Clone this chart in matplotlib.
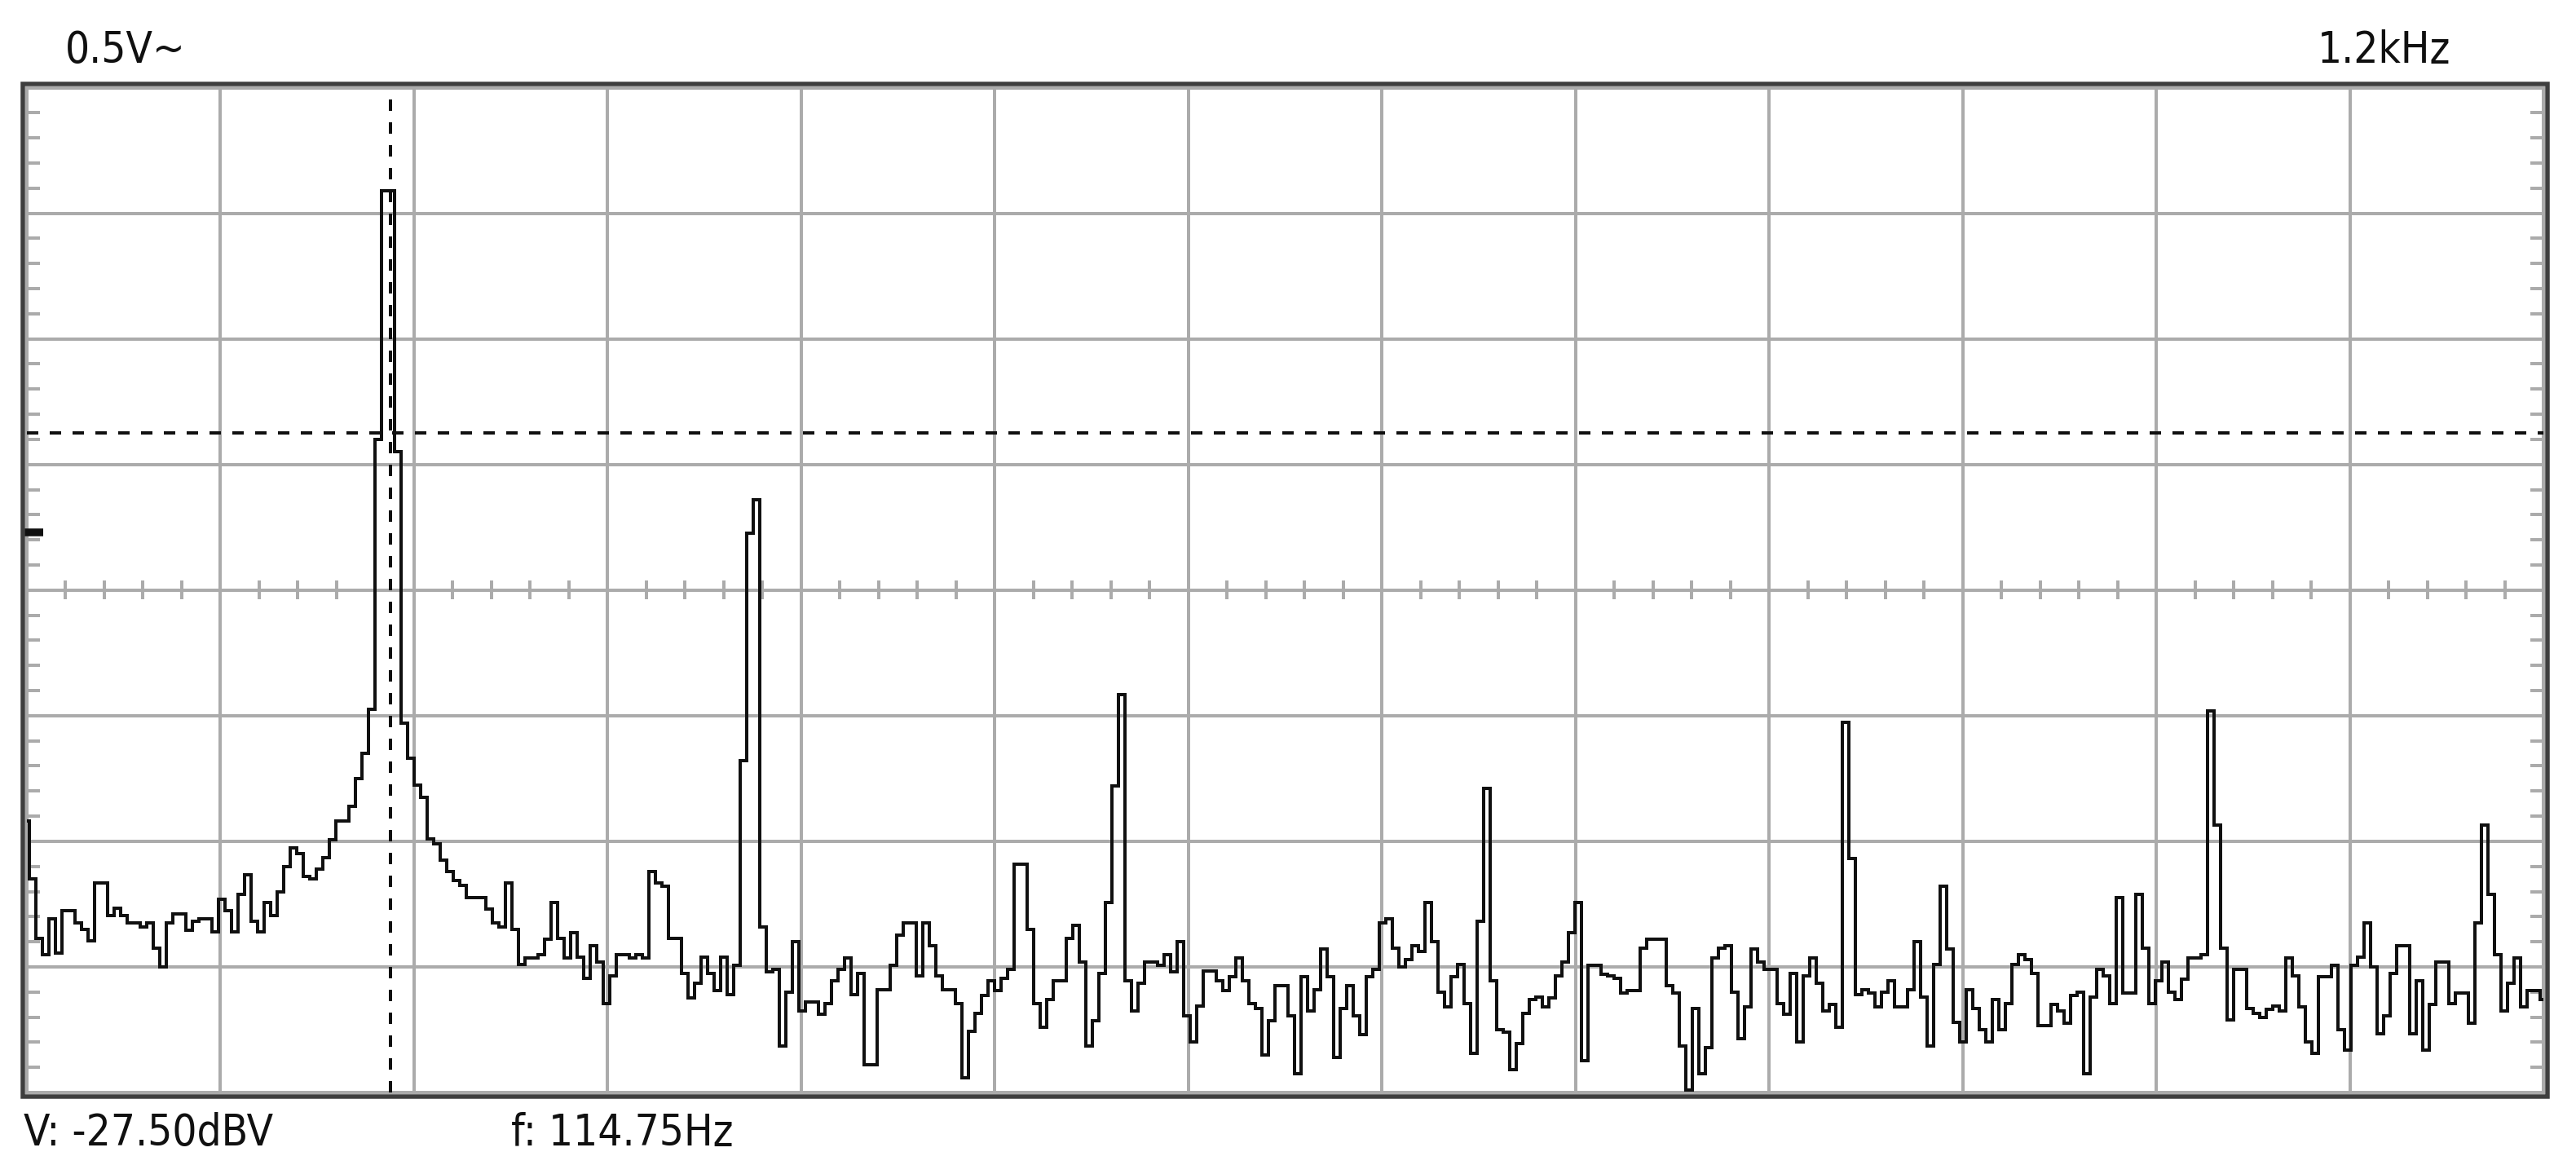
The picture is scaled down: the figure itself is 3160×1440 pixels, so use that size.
import numpy as np
import matplotlib
matplotlib.use("Agg")
import matplotlib.pyplot as plt
from matplotlib.ticker import MultipleLocator
from matplotlib.patches import Rectangle
from matplotlib import font_manager as fm

# ---------------- data ----------------
# FFT trace level in dBV, one value per display bin (uniform frequency grid)
level_dbv = [
    -58.4, -63.0, -67.7, -69.0, -66.2, -68.9, -65.5, -65.5, -66.5, -67.0,
    -67.9, -63.3, -63.3, -65.9, -65.3, -65.9, -66.5, -66.5, -66.8, -66.5,
    -68.5, -70.0, -66.5, -65.8, -65.8, -67.1, -66.4, -66.2, -66.2, -67.2,
    -64.6, -65.5, -67.2, -64.2, -62.7, -66.4, -67.2, -64.9, -65.9, -64.0,
    -62.0, -60.5, -61.0, -62.8, -63.0, -62.2, -61.3, -59.9, -58.4, -58.4,
    -57.2, -55.0, -53.0, -49.5, -28.0, -8.2, -8.2, -29.0, -50.6, -53.4,
    -55.5, -56.5, -59.8, -60.2, -61.5, -62.4, -63.1, -63.5, -64.5, -64.5,
    -64.5, -65.4, -66.5, -66.8, -63.3, -67.0, -69.8, -69.3, -69.3, -69.0,
    -67.8, -64.9, -67.7, -69.3, -67.3, -69.2, -70.9, -68.3, -69.6, -72.9,
    -70.7, -69.0, -69.0, -69.3, -69.0, -69.3, -62.4, -63.3, -63.6, -67.7,
    -67.7, -70.5, -72.5, -71.3, -69.2, -70.5, -71.9, -69.2, -72.2, -69.9,
    -53.6, -35.5, -32.8, -66.8, -70.4, -70.2, -76.3, -72.0, -68.0, -73.5,
    -72.8, -72.8, -73.8, -72.9, -71.1, -70.2, -69.3, -72.2, -70.5, -77.8,
    -77.8, -71.8, -71.8, -69.9, -67.5, -66.5, -66.5, -70.7, -66.5, -68.3,
    -70.7, -71.8, -71.8, -72.9, -78.8, -75.1, -73.7, -72.3, -71.1, -71.9,
    -70.9, -70.2, -61.8, -61.8, -67.0, -72.9, -74.8, -72.6, -71.1, -71.1,
    -67.7, -66.7, -69.6, -76.3, -74.3, -70.5, -64.9, -55.6, -48.3, -71.1,
    -73.5, -71.3, -69.6, -69.6, -69.9, -69.0, -70.4, -68.0, -73.9, -76.0,
    -73.1, -70.3, -70.3, -71.1, -71.9, -70.8, -69.3, -71.1, -72.9, -73.3,
    -77.0, -74.3, -71.5, -71.5, -73.9, -78.5, -70.8, -73.5, -71.8, -68.6,
    -70.8, -77.2, -73.3, -71.5, -73.9, -75.4, -70.8, -70.2, -66.5, -66.2,
    -68.5, -70.0, -69.4, -68.3, -68.8, -64.9, -68.0, -72.0, -73.2, -70.8,
    -69.8, -72.9, -76.9, -66.4, -55.8, -71.1, -75.0, -75.2, -78.2, -76.1,
    -73.7, -72.6, -72.4, -73.2, -72.5, -70.7, -69.6, -67.3, -64.9, -77.5,
    -69.9, -69.9, -70.6, -70.7, -70.9, -72.1, -71.9, -71.9, -68.5, -67.8,
    -67.8, -67.8, -71.5, -72.1, -76.3, -79.8, -73.3, -78.5, -76.4, -69.3,
    -68.5, -68.3, -72.0, -75.7, -73.2, -68.6, -69.6, -70.2, -70.2, -72.9,
    -73.8, -70.5, -76.0, -70.7, -69.3, -71.3, -73.5, -73.0, -74.8, -50.5,
    -61.4, -72.2, -71.8, -72.1, -73.2, -72.0, -71.1, -73.2, -73.2, -71.8,
    -68.0, -72.4, -76.3, -69.8, -63.6, -68.6, -74.4, -76.0, -71.8, -73.3,
    -75.0, -76.0, -72.6, -75.0, -72.9, -69.8, -69.0, -69.4, -70.5, -74.7,
    -74.7, -73.0, -73.5, -74.5, -72.3, -72.0, -78.5, -72.4, -70.2, -70.7,
    -72.9, -64.5, -72.1, -72.1, -64.2, -68.5, -72.9, -71.1, -69.6, -72.0,
    -72.6, -71.0, -69.3, -69.3, -69.0, -49.6, -58.7, -68.5, -74.2, -70.2,
    -70.2, -73.3, -73.7, -74.0, -73.4, -73.1, -73.5, -69.3, -70.7, -73.2,
    -76.0, -76.9, -70.8, -70.8, -69.9, -75.0, -76.6, -69.9, -69.2, -66.5,
    -70.0, -75.3, -73.9, -70.5, -68.3, -68.3, -75.3, -71.1, -76.6, -73.0,
    -69.6, -69.6, -72.9, -72.1, -72.1, -74.5, -66.5, -58.7, -64.2, -69.0,
    -73.5, -71.3, -69.3, -73.2, -71.9, -71.9, -72.6,
]
bin_hz = 2.056            # frequency step between trace bins
span_hz = 793.5           # full horizontal span
n_xdiv = 13
y_min_dbv, y_max_dbv = -80, 0
cursor_f_hz = 114.75
cursor_v_dbv = -27.50
ref_marker_dbv = -35.4
label_top_left = "0.5V~"
label_top_right = "1.2kHz"
label_v = "V: -27.50dBV"
label_f = "f: 114.75Hz"

# ---------------- styling ----------------
W, H = 3160, 1440
PX = 72 / 100.0            # points per pixel at dpi 100
GRID = "#ababab"
FRAME = "#3e3e3e"
INK = "#101010"


def pick_font():
    cands = [dict(family="Liberation Sans Narrow"),
             dict(family="DejaVu Sans", stretch="condensed"),
             dict(family="Noto Sans", stretch="condensed"),
             dict(family="Open Sans", stretch="condensed"),
             dict(family="Roboto", stretch="condensed")]
    for c in cands:
        fp = fm.FontProperties(**c)
        try:
            path = fm.findfont(fp, fallback_to_default=False)
        except Exception:
            continue
        low = path.lower()
        if "narrow" in low:
            return c, 44
        if "condensed" in low:
            return c, 38
    return dict(family="Liberation Sans"), 37


font_kw, fs = pick_font()

fig = plt.figure(figsize=(W / 100, H / 100), dpi=100, facecolor="white")

L, R, T, B = 32.5, 3120.0, 107.5, 1340.0
ax = fig.add_axes([L / W, 1 - B / H, (R - L) / W, (B - T) / H])
ax.set_facecolor("white")

freqs = np.arange(len(level_dbv)) * bin_hz
ax.set_xlim(0, span_hz)
ax.set_ylim(y_min_dbv, y_max_dbv)

# grid
div_hz = span_hz / n_xdiv
ax.set_xticks(np.arange(n_xdiv + 1) * div_hz)
ax.set_yticks(np.arange(y_min_dbv, y_max_dbv + 1, 10))
ax.yaxis.set_minor_locator(MultipleLocator(2))
ax.tick_params(which="major", length=0, labelbottom=False, labelleft=False)
ax.tick_params(which="minor", axis="y", direction="in", length=16 * PX,
               width=4 * PX, color=GRID, left=True, right=True)
ax.tick_params(which="minor", axis="x", length=0)
ax.grid(True, which="major", color=GRID, linewidth=4 * PX, zorder=0)
ax.set_axisbelow(True)
for s in ax.spines.values():
    s.set_color(GRID)
    s.set_linewidth(4 * PX)

# tick marks on the centre horizontal line
centre = (y_min_dbv + y_max_dbv) / 2
minor_x = [k * div_hz / 5 for k in range(1, n_xdiv * 5) if k % 5 != 0]
ax.vlines(minor_x, centre - 0.76, centre + 0.76, color=GRID,
          linewidth=4 * PX, zorder=1)

# dark outer frame
pad = 4.5
fig.add_artist(Rectangle(((L - pad) / W, 1 - (B + pad) / H),
                         (R - L + 2 * pad) / W, (B - T + 2 * pad) / H,
                         transform=fig.transFigure, fill=False,
                         edgecolor=FRAME, linewidth=5.5 * PX, zorder=5))

# trace
ax.plot(freqs, level_dbv, drawstyle="steps-mid", color=INK,
        linewidth=4 * PX, solid_joinstyle="miter", solid_capstyle="butt",
        zorder=3)

# cursors
ax.axvline(cursor_f_hz, color=INK, linewidth=4 * PX, dashes=(3.5, 3.5), zorder=4)
ax.axhline(cursor_v_dbv, color=INK, linewidth=4 * PX, dashes=(3.5, 3.5), zorder=4)

# reference marker on the left edge
ax.plot([-0.77, 5.3], [ref_marker_dbv, ref_marker_dbv], color=INK,
        linewidth=9.5 * PX, solid_capstyle="butt", clip_on=False, zorder=6)

# texts
txt = dict(fontsize=fs, color=INK, ha="left", va="baseline", **font_kw)
fig.text(80 / W, 1 - 77 / H, label_top_left, **txt)
fig.text(2843 / W, 1 - 77 / H, label_top_right, **txt)
fig.text(29 / W, 1 - 1405 / H, label_v, **txt)
fig.text(627 / W, 1 - 1405 / H, label_f, **txt)

fig.savefig("out.png", dpi=100, facecolor="white")
